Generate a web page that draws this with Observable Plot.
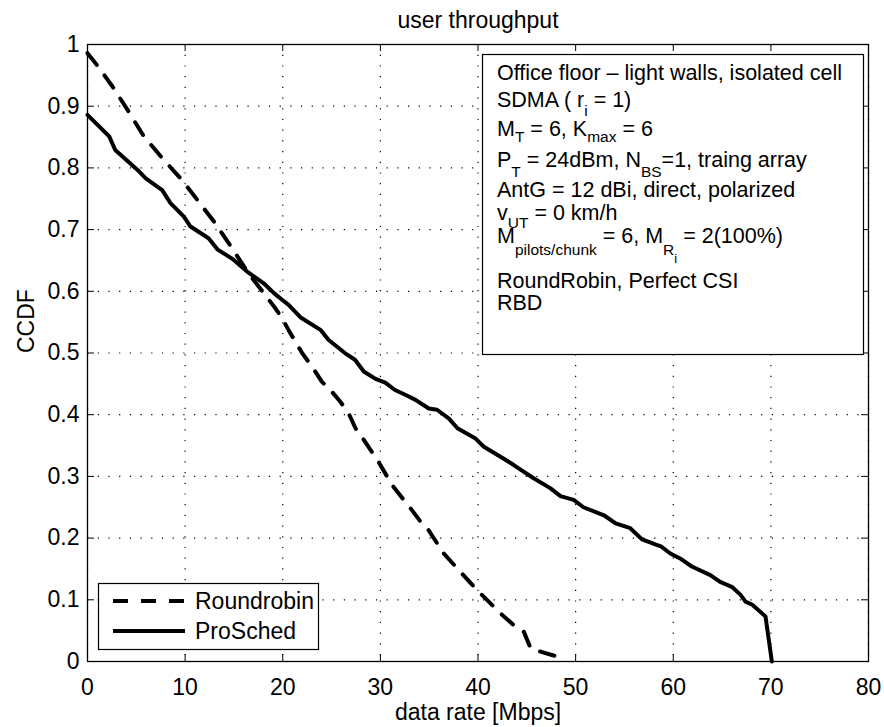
<!DOCTYPE html>
<html><head><meta charset="utf-8">
<script src="https://cdn.jsdelivr.net/npm/d3@7"></script>
<script src="https://cdn.jsdelivr.net/npm/@observablehq/plot@0.6"></script>
<style>body{margin:0;background:#fff} svg{display:block}</style>
</head><body><div id="chart"></div>
<script>
// ---- data ----
const titleText = "user throughput";
const xLabelText = "data rate [Mbps]";
const yLabelText = "CCDF";
const xTicks = [0, 10, 20, 30, 40, 50, 60, 70, 80];
const yTicks = [0, 0.1, 0.2, 0.3, 0.4, 0.5, 0.6, 0.7, 0.8, 0.9, 1];
const seriesNames = ["Roundrobin", "ProSched"];

const roundrobinRate = [0, 0.85, 2.56, 4.1, 5.78, 7.65, 9.7, 11.4, 13.1, 14.8, 16.5, 18.2, 19.26, 19.95, 20.6, 22.0, 23.0, 24.0, 25.05, 25.9, 26.76, 27.45, 28.1, 29.8, 31.2, 33.1, 34.1, 34.8, 36.5, 38.5, 39.6, 40.4, 41.8, 42.3, 43.66, 44.7, 45.4, 46.4, 48.1, 48.6];
const roundrobinCcdf = [0.986, 0.969, 0.932, 0.894, 0.851, 0.816, 0.780, 0.745, 0.710, 0.670, 0.629, 0.594, 0.572, 0.556, 0.537, 0.4995, 0.478, 0.4535, 0.437, 0.421, 0.402, 0.378, 0.364, 0.324, 0.286, 0.248, 0.227, 0.216, 0.175, 0.140, 0.121, 0.108, 0.086, 0.078, 0.059, 0.048, 0.021, 0.016, 0.008, 0];

const proschedRate = [0, 2.22, 2.84, 5.3, 5.97, 7.65, 8.5, 9.87, 10.55, 12.4, 13.3, 14.8, 16.35, 18.05, 19.1, 19.8, 20.6, 21.8, 23.9, 24.7, 26.4, 27.4, 28.3, 29.5, 30.5, 31.5, 32.6, 33.6, 34.96, 35.8, 37.0, 37.9, 39.7, 40.6, 42.6, 43.7, 45.7, 47.4, 48.45, 49.8, 50.8, 52.9, 54.1, 55.6, 56.8, 58.3, 58.8, 59.7, 60.7, 61.9, 63.8, 64.8, 66.0, 66.9, 67.4, 68.1, 69.45, 70.1];
const proschedCcdf = [0.886, 0.851, 0.829, 0.794, 0.783, 0.764, 0.743, 0.721, 0.705, 0.686, 0.668, 0.653, 0.632, 0.613, 0.597, 0.588, 0.578, 0.558, 0.537, 0.521, 0.4995, 0.489, 0.470, 0.458, 0.452, 0.440, 0.432, 0.424, 0.410, 0.408, 0.394, 0.378, 0.362, 0.348, 0.329, 0.318, 0.297, 0.281, 0.268, 0.262, 0.250, 0.237, 0.224, 0.216, 0.198, 0.189, 0.186, 0.175, 0.167, 0.154, 0.140, 0.129, 0.121, 0.108, 0.097, 0.092, 0.073, 0];

// annotation text: segments [text, level] (0 normal, 1 subscript, 2 sub-subscript)
const annotationLines = [
  [["Office floor \u2013 light walls, isolated cell", 0]],
  [["SDMA ( r", 0], ["i", 1], [" = 1)", 0]],
  [["M", 0], ["T", 1], [" = 6, K", 0], ["max", 1], [" = 6", 0]],
  [["P", 0], ["T", 1], [" = 24dBm, N", 0], ["BS", 1], ["=1, traing array", 0]],
  [["AntG = 12 dBi, direct, polarized", 0]],
  [["v", 0], ["UT", 1], [" = 0 km/h", 0]],
  [["M", 0], ["pilots/chunk", 1], [" = 6, M", 0], ["R", 1], ["i", 2], [" = 2(100%)", 0]],
  [["RoundRobin, Perfect CSI", 0]],
  [["RBD", 0]]
];

// ---- layout ----
const W = 884, H = 727, mL = 87, mR = 16, mT = 44, mB = 66;
const innerW = W - mL - mR, innerH = H - mT - mB;
const FONT = "'Liberation Sans', Arial, Helvetica, sans-serif";
const tickLenY = 7 / innerH; // in y units (domain 0..1)
const tickLenX = 7 / innerW * 80; // in x units
const DASH = "15,13";

const rr = roundrobinRate.map((x, i) => ({x, y: roundrobinCcdf[i]}));
const ps = proschedRate.map((x, i) => ({x, y: proschedCcdf[i]}));

const gridStyle = {stroke: "#000", strokeOpacity: 1, strokeWidth: 1.2, strokeDasharray: "1.2,9.5"};

const chart = Plot.plot({
  width: W, height: H,
  marginLeft: mL, marginRight: mR, marginTop: mT, marginBottom: mB,
  style: {fontFamily: FONT, fontSize: "23px", background: "#fff", color: "#000", overflow: "visible"},
  x: {domain: [0, 80]},
  y: {domain: [0, 1]},
  marks: [
    Plot.gridX(xTicks, gridStyle),
    Plot.gridY(yTicks, gridStyle),
    Plot.ruleX(xTicks, {x: d => d, y1: 0, y2: tickLenY, stroke: "#000", strokeWidth: 1}),
    Plot.ruleX(xTicks, {x: d => d, y1: 1 - tickLenY, y2: 1, stroke: "#000", strokeWidth: 1}),
    Plot.ruleY(yTicks, {y: d => d, x1: 0, x2: tickLenX, stroke: "#000", strokeWidth: 1}),
    Plot.ruleY(yTicks, {y: d => d, x1: 80 - tickLenX, x2: 80, stroke: "#000", strokeWidth: 1}),
    Plot.axisX(xTicks, {tickSize: 0, tickPadding: 17, label: null, tickFormat: d => String(d), fontSize: 23}),
    Plot.axisY(yTicks, {tickSize: 0, tickPadding: 8, label: null, tickFormat: d => String(d), fontSize: 23}),
    Plot.frame({stroke: "#000", strokeWidth: 1.3}),
    Plot.line(rr, {x: "x", y: "y", stroke: "#000", strokeWidth: 4, strokeDasharray: DASH, strokeLinejoin: "round"}),
    Plot.line(ps, {x: "x", y: "y", stroke: "#000", strokeWidth: 4, strokeLinejoin: "round"}),
    Plot.text([titleText], {frameAnchor: "top", dy: -17, lineAnchor: "bottom", fontSize: 23}),
    Plot.text([xLabelText], {frameAnchor: "bottom", dy: 58, lineAnchor: "bottom", fontSize: 23}),
    Plot.text([yLabelText], {frameAnchor: "left", dx: -61, rotate: -90, fontSize: 23})
  ]
});
document.getElementById("chart").appendChild(chart);

// ---- annotation box and legend (positioned in pixels, like MATLAB) ----
const svg = d3.select(chart);

// annotation box
const ann = svg.append("g").attr("font-family", FONT).attr("fill", "#000").attr("text-anchor", "start");
ann.append("rect").attr("x", 482.5).attr("y", 54.5).attr("width", 381).attr("height", 300)
  .attr("fill", "#fff").attr("stroke", "#000").attr("stroke-width", 1.2);
const baselines = [80, 107, 136, 167, 197, 220, 243, 288, 310];
const subShift = [[0, 0, 0], [0, 9, 0], [0, 6, 0], [0, 10, 0], [0, 0, 0], [0, 8, 0], [0, 12, 20], [0, 0, 0], [0, 0, 0]];
annotationLines.forEach((segs, li) => {
  const t = ann.append("text").attr("x", 497).attr("y", baselines[li])
    .attr("font-size", 21.5).style("white-space", "pre");
  let cur = 0;
  segs.forEach(([s, lvl]) => {
    const shift = subShift[li][lvl];
    t.append("tspan").attr("dy", shift - cur)
      .attr("font-size", lvl === 0 ? 21.5 : (lvl === 1 ? 15.5 : 13))
      .text(s);
    cur = shift;
  });
});

// legend
const leg = svg.append("g").attr("font-family", FONT).attr("text-anchor", "start");
leg.append("rect").attr("x", 98.5).attr("y", 583.5).attr("width", 220).attr("height", 66)
  .attr("fill", "#fff").attr("stroke", "#000").attr("stroke-width", 1.2);
const legY = [601, 631];
const legDash = [DASH, null];
seriesNames.forEach((name, i) => {
  leg.append("line").attr("x1", 113).attr("x2", 185).attr("y1", legY[i]).attr("y2", legY[i])
    .attr("stroke", "#000").attr("stroke-width", 4).attr("stroke-dasharray", legDash[i]);
  leg.append("text").attr("x", 195).attr("y", legY[i] + 8).attr("font-size", 23).attr("fill", "#000").text(name);
});
</script></body></html>
